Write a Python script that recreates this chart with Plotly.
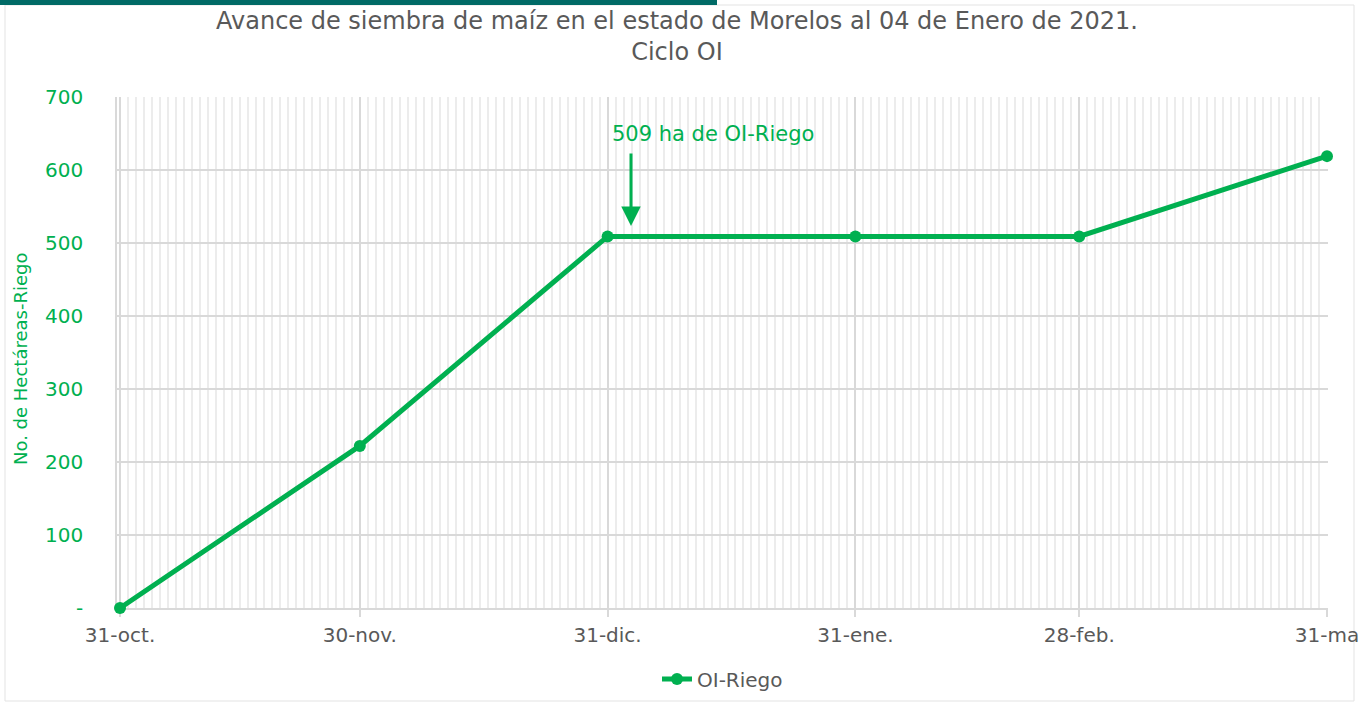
import plotly.graph_objects as go
from datetime import datetime, timedelta

fechas = ["2020-10-31", "2020-11-30", "2020-12-31", "2021-01-31", "2021-02-28", "2021-03-31"]
etiquetas = ["31-oct.", "30-nov.", "31-dic.", "31-ene.", "28-feb.", "31-ma"]
hectareas = [0, 222, 509, 509, 509, 619]
serie = "OI-Riego"
titulo = "Avance de siembra de maíz en el estado de Morelos al 04 de Enero de 2021.<br>Ciclo OI"
titulo_y = "No. de Hectáreas-Riego"
anotacion = "509 ha de OI-Riego"

VERDE = "#00b050"
GRIS = "#595959"
FONT = "DejaVu Sans"

W, H = 1363, 702
L, R, T, B = 117, 1328, 97, 608

def px(x):
    return (x - L) / (R - L)

def py(y):
    return (B - y) / (B - T)

fig = go.Figure()
fig.add_trace(go.Scatter(
    x=fechas, y=hectareas, mode="lines+markers", name=serie,
    line=dict(color=VERDE, width=5),
    marker=dict(color=VERDE, size=12),
    cliponaxis=False,
))

start = datetime(2020, 10, 31) - timedelta(hours=9)
end = datetime(2021, 3, 31) + timedelta(hours=3)

fig.update_layout(
    width=W, height=H,
    margin=dict(l=L, r=W - R, t=T, b=H - B, autoexpand=False),
    paper_bgcolor="white", plot_bgcolor="white",
    showlegend=True,
    legend=dict(orientation="h", x=0.5, xanchor="center", y=py(679), yanchor="middle",
                font=dict(family=FONT, size=20, color=GRIS)),
    xaxis=dict(
        type="date", range=[start, end], automargin=False, layer="below traces",
        tickmode="array", tickvals=fechas, ticktext=etiquetas,
        showgrid=True, gridcolor="#d9d9d9", gridwidth=1.5,
        ticks="outside", ticklen=7, tickcolor="#d9d9d9", tickwidth=1.5,
        ticklabelstandoff=1,
        minor=dict(dtick=86400000, showgrid=True, gridcolor="#ececec", gridwidth=1.5, tick0="2020-10-31"),
        showline=True, linecolor="#d9d9d9", linewidth=1.5,
        tickfont=dict(family=FONT, size=20, color=GRIS),
        zeroline=False,
    ),
    yaxis=dict(
        range=[0, 700], tickmode="array", automargin=False, layer="below traces",
        tickvals=[0, 100, 200, 300, 400, 500, 600, 700],
        ticktext=["-", "100", "200", "300", "400", "500", "600", "700"],
        showgrid=True, gridcolor="#d9d9d9", gridwidth=1.5,
        showline=True, linecolor="#d9d9d9", linewidth=1.5,
        zeroline=False,
        ticks="", ticklabelstandoff=28,
        tickfont=dict(family=FONT, size=20, color=VERDE),
    ),
)

fig.add_annotation(
    x=px(677), y=py(36), xref="paper", yref="paper",
    text=titulo, showarrow=False, xanchor="center", yanchor="middle",
    font=dict(family=FONT, size=24, color=GRIS),
)
fig.add_annotation(
    x=px(20), y=py(359), xref="paper", yref="paper", textangle=-90,
    text=titulo_y, showarrow=False, xanchor="center", yanchor="middle",
    font=dict(family=FONT, size=18, color=VERDE),
)
fig.add_annotation(
    x=px(713), y=py(134), xref="paper", yref="paper",
    text=anotacion, showarrow=False, xanchor="center", yanchor="middle",
    font=dict(family=FONT, size=21, color=VERDE),
)
fig.add_annotation(
    x=px(631), y=py(226), xref="paper", yref="paper",
    ax=0, ay=-74, axref="pixel", ayref="pixel",
    text="", showarrow=True, arrowhead=2, arrowsize=1.3, arrowwidth=3, arrowcolor=VERDE,
)

fig.add_shape(type="rect", xref="paper", yref="paper",
              x0=px(5), x1=px(1354), y0=py(701), y1=py(5),
              line=dict(color="#e3e3e3", width=1), layer="below")
fig.add_shape(type="rect", xref="paper", yref="paper",
              x0=px(0), x1=px(717), y0=py(5), y1=py(-2),
              line=dict(width=0), fillcolor="#006a66")

fig.write_html("out.html", config={"displayModeBar": False},
               post_script="document.body.style.margin='0';")
